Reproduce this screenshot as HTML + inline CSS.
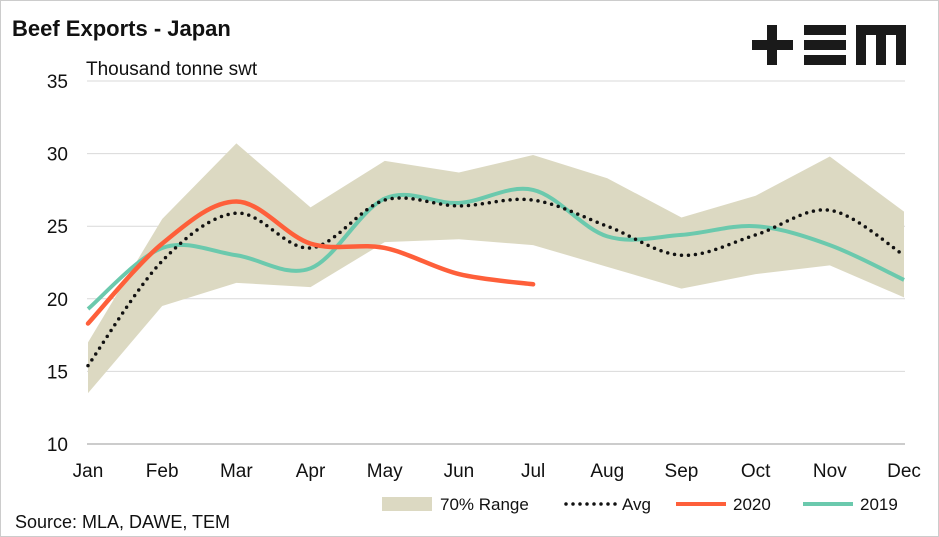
<!DOCTYPE html>
<html><head><meta charset="utf-8"><style>
body{margin:0;background:#fff;}
svg{display:block;font-family:"Liberation Sans",sans-serif;}
</style></head><body>
<svg width="939" height="537">
<rect x="0.5" y="0.5" width="938" height="536" fill="#fff" stroke="#ccc"/>
<text x="12" y="36" font-size="22" font-weight="bold" fill="#111">Beef Exports - Japan</text>
<text x="86" y="75" font-size="19" fill="#111">Thousand tonne swt</text>
<g fill="#1a1a1a">
<rect x="752" y="40" width="41" height="10"/><rect x="767" y="25" width="10" height="40"/>
<rect x="804" y="25" width="42" height="10"/><rect x="804" y="40" width="42" height="10"/><rect x="804" y="55" width="42" height="10"/>
<path d="M856 25H906V65H896V35H886V65H876V35H866V65H856Z"/>
</g>
<g id="grid"></g><g id="plot"></g><g id="axes"></g>
<g font-size="17" fill="#111">
<rect x="382" y="497" width="50" height="14" fill="#dcd9c2"/>
<text x="440" y="510">70% Range</text>
<line x1="566" y1="504" x2="616" y2="504" stroke="#111" stroke-width="3.5" stroke-dasharray="0 7" stroke-linecap="round"/>
<text x="622" y="510">Avg</text>
<line x1="676" y1="504" x2="726" y2="504" stroke="#fe5f3a" stroke-width="4"/>
<text x="733" y="510">2020</text>
<line x1="803" y1="504" x2="853" y2="504" stroke="#6bc9ad" stroke-width="4"/>
<text x="860" y="510">2019</text>
</g>
<text x="15" y="528" font-size="18" fill="#111">Source: MLA, DAWE, TEM</text>
</svg>
<script>
const months=["Jan","Feb","Mar","Apr","May","Jun","Jul","Aug","Sep","Oct","Nov","Dec"];
const yTicks=[10,15,20,25,30,35];
const rangeHigh=[17,25.5,30.7,26.3,29.5,28.7,29.9,28.3,25.6,27.1,29.8,26];
const rangeLow=[13.5,19.5,21.1,20.8,23.9,24.1,23.7,22.2,20.7,21.7,22.3,20.1];
const avg=[15.4,22.6,25.9,23.5,26.8,26.4,26.8,25.0,23.0,24.4,26.1,23.0];
const s2020=[18.3,23.8,26.7,23.8,23.5,21.7,21.0];
const s2019=[19.3,23.5,23.0,22.1,26.9,26.6,27.5,24.3,24.4,25.0,23.7,21.3];
const NS="http://www.w3.org/2000/svg";
const X=i=>88+i*(904-88)/11;
const Y=v=>444-(v-10)*(444-81)/25;
function mk(t,a,p){const e=document.createElementNS(NS,t);for(const k in a)e.setAttribute(k,a[k]);document.getElementById(p).appendChild(e);return e;}
function smooth(arr){const p=arr.map((v,i)=>[X(i),Y(v)]);let d="M"+p[0];for(let i=0;i<p.length-1;i++){const a=p[i-1]||p[i],b=p[i],c=p[i+1],e=p[i+2]||c;const c1=[b[0]+(c[0]-a[0])/6,b[1]+(c[1]-a[1])/6],c2=[c[0]-(e[0]-b[0])/6,c[1]-(e[1]-b[1])/6];d+="C"+c1+" "+c2+" "+c;}return d;}
yTicks.forEach(v=>{
 if(v>10){const g=mk("line",{x1:87,x2:905,y1:Y(v),y2:Y(v),stroke:"#d9d9d9","stroke-width":1},"grid");}
 const t=mk("text",{x:68,y:Y(v)+7,"font-size":19,"text-anchor":"end",fill:"#111"},"axes");t.textContent=v;
 
 
});
const ax=mk("line",{x1:87,x2:905,y1:444,y2:444,stroke:"#999","stroke-width":1},"axes");


months.forEach((m,i)=>{const t=mk("text",{x:X(i),y:477,"font-size":19,"text-anchor":"middle",fill:"#111"},"axes");t.textContent=m;
 
 });
let pts=rangeHigh.map((v,i)=>X(i)+","+Y(v)).concat(rangeLow.map((v,i)=>X(i)+","+Y(v)).reverse());
const rg=mk("polygon",{points:pts.join(" "),fill:"#dcd9c2"},"plot");


const l19=mk("path",{d:smooth(s2019),fill:"none",stroke:"#6bc9ad","stroke-width":4},"plot");


const la=mk("path",{d:smooth(avg),fill:"none",stroke:"#111","stroke-width":3.5,"stroke-dasharray":"0 7","stroke-linecap":"round"},"plot");


const l20=mk("path",{d:smooth(s2020),fill:"none",stroke:"#fe5f3a","stroke-width":4.5,"stroke-linecap":"round"},"plot");


</script>
</body></html>
